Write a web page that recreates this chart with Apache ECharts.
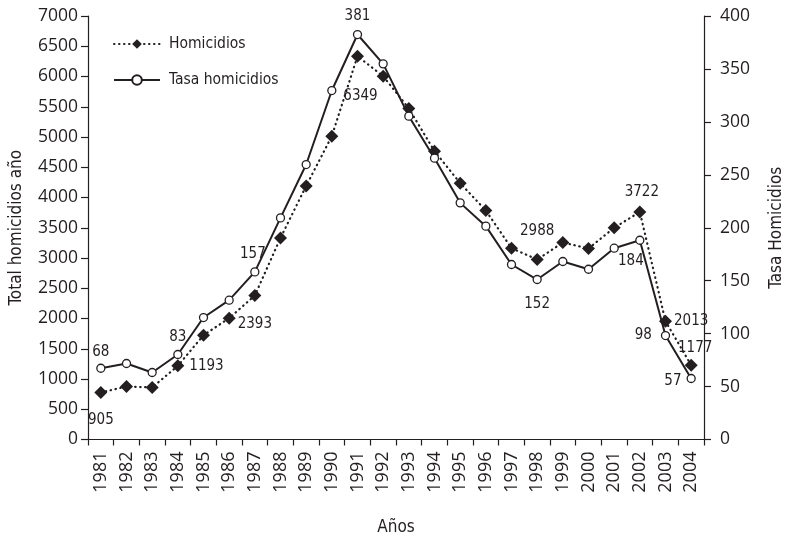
<!DOCTYPE html>
<html>
<head>
<meta charset="utf-8">
<title>Homicidios 1981-2004</title>
<script src="https://cdn.jsdelivr.net/npm/echarts@6/dist/echarts.min.js"></script>
<style>
  html, body { margin: 0; padding: 0; background: #fff; }
  #chart { width: 787px; height: 538px; }
</style>
</head>
<body>
<div id="chart"></div>
<script>
var years = ['1981', '1982', '1983', '1984', '1985', '1986', '1987', '1988', '1989', '1990', '1991', '1992',
  '1993', '1994', '1995', '1996', '1997', '1998', '1999', '2000', '2001', '2002', '2003', '2004'];

// total homicides per year (left axis)
var homicidios = [777, 876, 860, 1217, 1724, 2005, 2380, 3332, 4192, 5014, 6336, 6005,
  5472, 4766, 4237, 3785, 3162, 2975, 3256, 3157, 3500, 3762, 1955, 1228];

// homicide rate (right axis)
var tasa = [67.3, 71.8, 63.3, 80.3, 115.2, 131.6, 158.3, 209.3, 259.7, 329.6, 382.5, 354.8,
  305.4, 265.7, 223.5, 201.5, 165.3, 151.1, 168.1, 160.8, 180.7, 188.2, 98.2, 57.6];

// printed labels on the points (null = no label)
var homicidiosLabels = [905, null, null, 1193, null, null, 2393, null, null, null, 6349, null,
  null, null, null, null, null, 2988, null, null, null, 3722, 2013, 1177];
var tasaLabels = [68, null, null, 83, null, null, 157, null, null, null, 381, null,
  null, null, null, null, null, 152, null, null, null, 184, 98, 57];

var leftTicks = { min: 0, max: 7000, interval: 500 };
var rightTicks = { min: 0, max: 400, interval: 50 };

// where each label sits relative to its point: [position, distance, offset]
var homLabelPos = { 0: ['bottom', 14], 3: ['right', 5], 6: ['bottom', 15], 10: ['bottom', 26, [3, 0]],
  17: ['top', 14], 21: ['top', 6, [2, 0]], 22: ['right', 2], 23: ['top', 3, [4, 0]] };
var tasaLabelPos = { 0: ['top', 4], 3: ['top', 5], 6: ['top', 6, [-2, 0]], 10: ['top', 6],
  17: ['bottom', 12], 21: ['bottom', 11, [-9, -2]], 22: ['left', 9], 23: ['left', 5, [0, 3]] };

var narrow = "'Liberation Sans Narrow', 'DejaVu Sans Condensed', sans-serif";
var tickFont = "'Open Sans', 'Noto Sans', sans-serif";
var ink = '#231f20';

function buildData(values, labels, pos) {
  return values.map(function (v, i) {
    var item = { value: v };
    if (labels[i] != null) {
      var p = pos[i];
      item.label = {
        show: true,
        position: p[0],
        distance: p[1],
        formatter: String(labels[i])
      };
      if (p[2]) item.label.offset = p[2];
    }
    return item;
  });
}

function plain(v) { return String(v); }

var chart = echarts.init(document.getElementById('chart'));

var axisCommon = {
  axisLine: { show: true, lineStyle: { color: ink, width: 1.2 } },
  axisTick: { show: true, inside: false, length: 7, lineStyle: { color: ink, width: 1.2 } },
  splitLine: { show: false },
  nameLocation: 'middle',
  nameTextStyle: { fontFamily: narrow, fontSize: 17, color: ink }
};

chart.setOption({
  animation: false,
  backgroundColor: '#fff',
  textStyle: { fontFamily: narrow, color: ink },
  grid: { left: 88, right: 83, top: 16, bottom: 98.5, containLabel: false, outerBoundsMode: 'none' },
  legend: {
    orient: 'vertical',
    left: 108,
    top: 31,
    itemWidth: 46,
    itemHeight: 12,
    itemGap: 20,
    textStyle: { fontFamily: narrow, fontSize: 15.5, color: ink, padding: [0, 0, 0, 4] },
    data: ['Homicidios', 'Tasa homicidios']
  },
  xAxis: Object.assign({}, axisCommon, {
    type: 'category',
    data: years,
    boundaryGap: true,
    name: 'Años',
    nameGap: 80,
    axisTick: { show: true, alignWithLabel: false, length: 6, lineStyle: { color: ink, width: 1.2 } },
    axisLabel: { interval: 0, rotate: 90, margin: 12, fontFamily: tickFont, fontSize: 18, color: ink }
  }),
  yAxis: [
    Object.assign({}, axisCommon, {
      type: 'value',
      position: 'left',
      min: leftTicks.min,
      max: leftTicks.max,
      interval: leftTicks.interval,
      name: 'Total homicidios año',
      nameRotate: 90,
      nameGap: 63,
      axisLabel: { margin: 10, fontFamily: tickFont, fontSize: 17.5, color: ink, formatter: plain }
    }),
    Object.assign({}, axisCommon, {
      type: 'value',
      position: 'right',
      min: rightTicks.min,
      max: rightTicks.max,
      interval: rightTicks.interval,
      name: 'Tasa Homicidios',
      nameRotate: 90,
      nameGap: 64,
      axisLabel: { margin: 16, fontFamily: tickFont, fontSize: 17.5, color: ink, formatter: plain }
    })
  ],
  series: [
    {
      name: 'Homicidios',
      type: 'line',
      yAxisIndex: 0,
      symbol: 'diamond',
      symbolSize: 13,
      itemStyle: { color: ink, borderColor: ink, borderWidth: 0 },
      lineStyle: { color: ink, width: 2.2, type: [0.5, 4.5], cap: 'round' },
      label: { fontFamily: narrow, fontSize: 15, color: ink },
      data: buildData(homicidios, homicidiosLabels, homLabelPos)
    },
    {
      name: 'Tasa homicidios',
      type: 'line',
      yAxisIndex: 1,
      symbol: 'circle',
      symbolSize: 8,
      showAllSymbol: true,
      itemStyle: { color: '#fff', borderColor: ink, borderWidth: 1.3 },
      lineStyle: { color: ink, width: 2 },
      label: { fontFamily: narrow, fontSize: 15, color: ink },
      data: buildData(tasa, tasaLabels, tasaLabelPos)
    }
  ]
});
</script>
</body>
</html>
